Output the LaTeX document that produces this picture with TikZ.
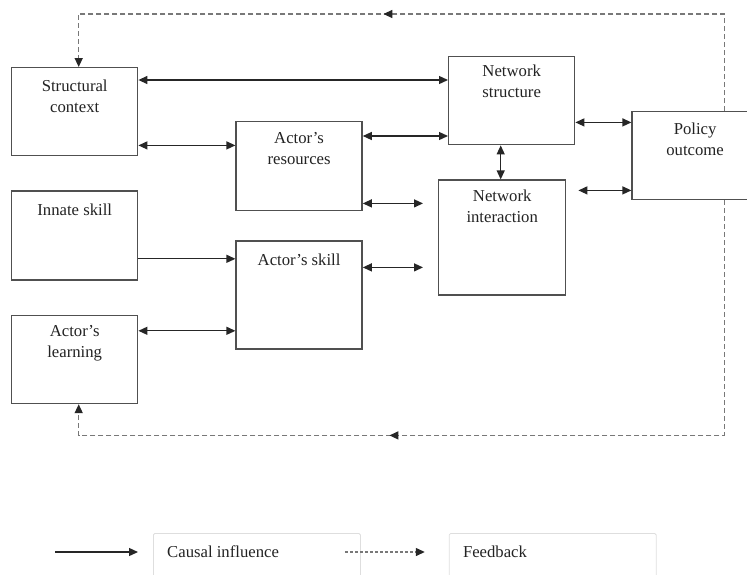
\documentclass[tikz,border=0pt]{standalone}
\usepackage{fontspec}
\setmainfont{Liberation Serif}
\usetikzlibrary{positioning,calc,arrows.meta,decorations.markings}
\definecolor{boxgray}{RGB}{80,80,80}
\definecolor{textgray}{RGB}{35,35,35}
\definecolor{dashgray}{RGB}{120,120,120}
\definecolor{keygray}{RGB}{222,222,222}

\begin{document}
\begin{tikzpicture}[
    x=1pt, y=1pt,
    >={Triangle[length=9pt, width=8pt]},
    box/.style={rectangle, draw=boxgray, fill=white, line width=1.4pt, minimum width=126pt, minimum height=88pt, inner sep=0pt},
    boxtext/.style={anchor=north, align=center, inner sep=0pt, text=textgray, font=\fontsize{16.7pt}{21pt}\selectfont},
    keybox/.style={rectangle, draw=keygray, rounded corners=1.5pt, line width=0.8pt, minimum width=207pt, minimum height=60pt, inner sep=0pt, anchor=north west},
    keytext/.style={anchor=north west, xshift=14pt, yshift=-13pt, inner sep=0pt, text=textgray, font=\fontsize{16.7pt}{21pt}\selectfont},
    twoway/.style={<->, draw=black!85, line width=1.3pt},
    oneway/.style={->, draw=black!85, line width=1.3pt},
    feedback/.style={-{Triangle[length=9pt, width=8pt, color=black!85]}, draw=dashgray, line width=1.5pt, dash pattern=on 5pt off 3pt},
    midtip/.style={postaction={decorate, decoration={markings, mark=at position #1 with {\arrow{Triangle[length=9pt, width=8pt, color=black!85]}}}}}
]
\useasboundingbox (0,0) rectangle (747,-574);

% left column
\node[box, anchor=north west, label={[boxtext, yshift=-13pt]north:Structural\\context}] (sc) at (11,-67) {};
\node[box, minimum height=89pt, below=34pt of sc, label={[boxtext, yshift=-13pt]north:Innate skill}] (innate) {};
\node[box, below=34pt of innate, label={[boxtext, yshift=-10pt]north:Actor’s\\learning}] (learn) {};

% actor column
\node[box, minimum height=89pt, below right=54pt and 97pt of sc.north east, label={[boxtext, yshift=-11pt]north:Actor’s\\resources}] (res) {};
\node[box, minimum height=108pt, below=29pt of res, label={[boxtext, yshift=-13pt]north:Actor’s skill}] (skill) {};

% network and outcome
\node[box, anchor=north west, label={[boxtext, yshift=-9pt]north:Network\\structure}] (ns) at (448,-56) {};
\node[box, minimum width=127pt, minimum height=115pt, below=34pt of ns, xshift=-9.5pt, label={[boxtext, yshift=-10pt]north:Network\\interaction}] (ni) {};
\node[box, below right=55pt and 56pt of ns.north east, label={[boxtext, yshift=-12pt]north:Policy\\outcome}] (po) {};

% causal links
\draw[twoway] ([yshift=-13pt]sc.north east) coordinate (p1) -- (p1 -| ns.west);
\draw[twoway] ([yshift=11pt]sc.south east) coordinate (p2) -- (p2 -| res.west);
\draw[twoway] ([yshift=-15pt]res.north east) coordinate (p3) -- (p3 -| ns.west);
\draw[twoway, shorten >=15pt] ([yshift=8pt]res.south east) coordinate (p4) -- (p4 -| ni.west);
\draw[oneway] ([yshift=22pt]innate.south east) coordinate (p5) -- (p5 -| skill.west);
\draw[twoway, shorten >=15pt] ([yshift=-27pt]skill.north east) coordinate (p6) -- (p6 -| ni.west);
\draw[twoway] ([yshift=-16pt]learn.north east) coordinate (p7) -- (p7 -| skill.west);
\draw[twoway] ([xshift=-11pt]ns.south) coordinate (p8) -- (p8 |- ni.north);
\draw[twoway] ([yshift=23pt]ns.south east) coordinate (p9) -- (p9 -| po.west);
\draw[twoway, shorten >=12pt] ([yshift=10pt]po.south west) coordinate (p10) -- (p10 -| ni.east);

% feedback loops
\draw[feedback, midtip=438pt] ([xshift=93pt]po.north west) -- ++(0,97) -| ([xshift=4pt]sc.north);
\draw[feedback, midtip=570pt] ([xshift=93pt]po.south west) -- ++(0,-235) -| ([xshift=4pt]learn.south);

% key
\node[keybox, label={[keytext]north west:Causal influence}] (causal) at (153,-533) {};
\node[keybox, right=88pt of causal, label={[keytext]north west:Feedback}] (fb) {};
\draw[oneway, shorten >=15pt] ([xshift=-98pt, yshift=-19pt]causal.north west) coordinate (k1) -- (k1 -| causal.west);
\draw[feedback, line width=1.3pt, dash pattern=on 3pt off 2pt, shorten >=24pt] ([xshift=-16pt, yshift=-19pt]causal.north east) coordinate (k2) -- (k2 -| fb.west);

\end{tikzpicture}
\end{document}
